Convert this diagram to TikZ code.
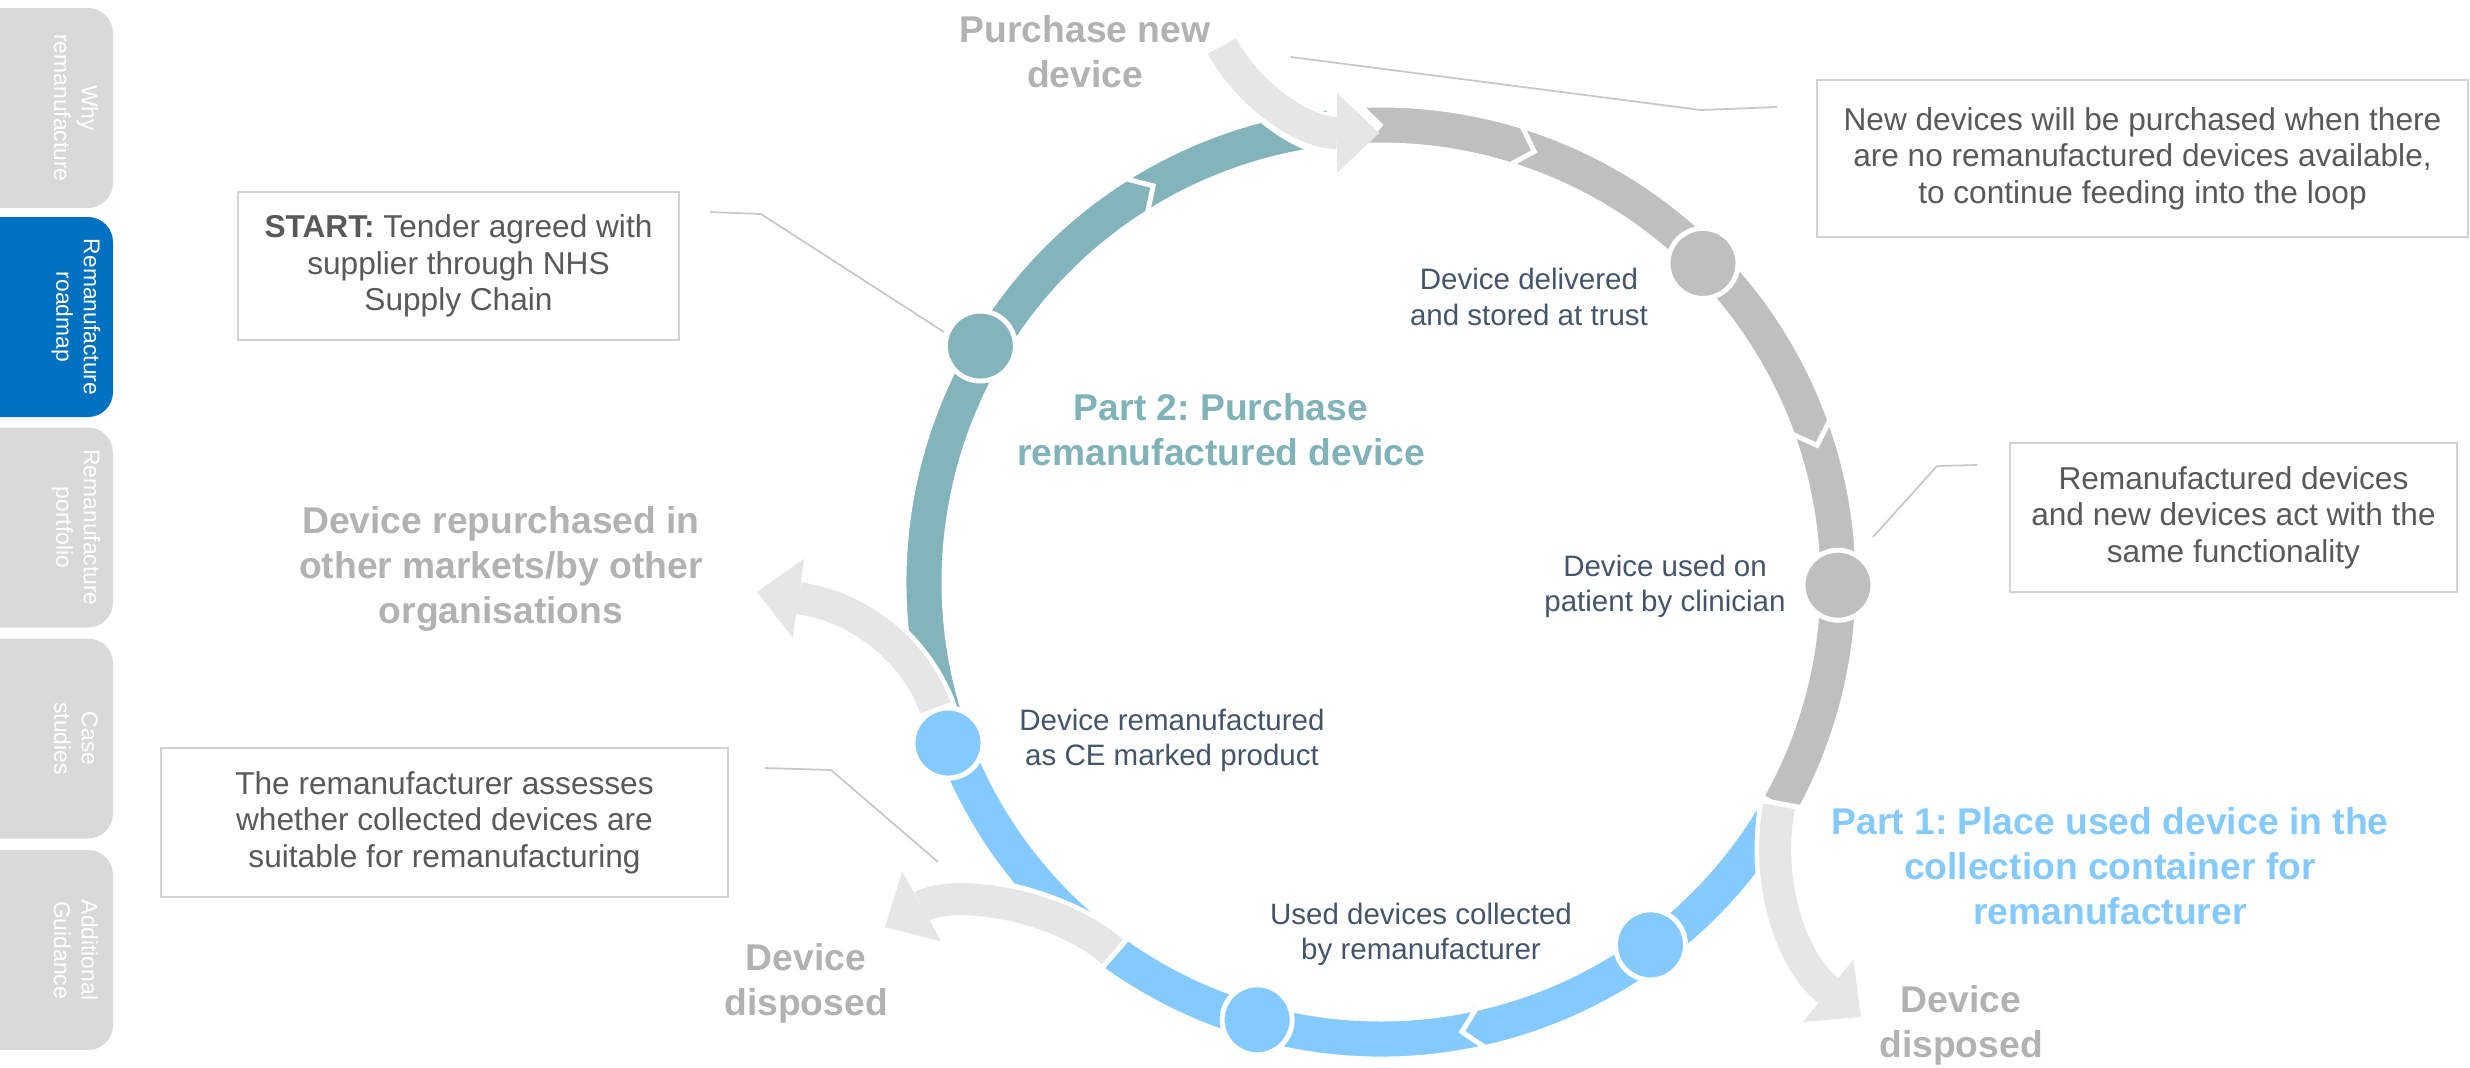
\documentclass[tikz,border=0pt]{standalone}
\usepackage{fontspec}
\setmainfont{Liberation Sans}
\usetikzlibrary{positioning,arrows.meta}
\frenchspacing

\definecolor{loopteal}{RGB}{132,180,187}
\definecolor{loopgrey}{RGB}{191,191,191}
\definecolor{loopblue}{RGB}{133,202,255}
\definecolor{pale}{RGB}{230,230,230}
\definecolor{tabgrey}{RGB}{217,217,217}
\definecolor{tabblue}{RGB}{0,112,192}
\definecolor{slate}{RGB}{68,84,106}
\definecolor{boxtext}{RGB}{89,89,89}
\definecolor{boxline}{RGB}{210,210,210}
\definecolor{calline}{RGB}{200,200,200}
\definecolor{lblgrey}{RGB}{178,178,178}
\definecolor{partteal}{RGB}{128,178,186}
\definecolor{partblue}{RGB}{133,202,255}

% #1 colour, #2 from, #3 to, #4 notch at start (0/1), #5 tip at end (0/1)
\newcommand{\loopseg}[5]{%
  \pgfmathsetmacro\segA{#2-#4*2.4}%
  \pgfmathsetmacro\segB{#3-#5*2.4}%
  \pgfmathsetmacro\segO{4.77+#5*0.13}%
  \pgfmathsetmacro\segI{4.37-#5*0.13}%
  \fill[#1,draw=white,line width=1.4pt]
    (#2:4.77) arc[start angle=#2,end angle=#3,radius=4.77]
    -- (#3:\segO) -- (\segB:4.57) -- (#3:\segI) -- (#3:4.37)
    arc[start angle=#3,end angle=#2,radius=4.37]
    -- (\segA:4.57) -- cycle;}

\begin{document}
\begin{tikzpicture}[
  box/.style={draw=boxline,line width=0.7pt,fill=white,align=center,text=boxtext,font=\fontsize{9}{10.4}\selectfont,inner sep=0},
  lbl/.style={align=center,text=slate,font=\fontsize{8.4}{10}\selectfont,inner sep=0},
  bigtxt/.style={align=center,text=#1,font=\fontsize{10.6}{12.8}\selectfont\bfseries,inner sep=0},
  dot/.style={circle,fill=#1,draw=white,line width=1.4pt,minimum size=0.7cm,inner sep=0},
  tab/.style={rotate=-90,align=center,text=white,font=\fontsize{6.5}{7.8}\selectfont,inner sep=0},
  callout/.style={draw=calline,line width=0.5pt},
  outarrow/.style={draw=pale,line width=0.32cm,-{Triangle[length=0.42cm,width=0.8cm,line width=0pt]},
    preaction={draw=white,line width=0.42cm,shorten <=-1.5pt,-{Triangle[length=0.52cm,width=0.98cm,line width=0pt]}}}]
\useasboundingbox (0,0) rectangle (24.70,-10.67);

\foreach \y/\c/\t [count=\i] in {1.08/tabgrey/{Why\\remanufacture},3.17/tabblue/{Remanufacture\\roadmap},5.275/tabgrey/{Remanufacture\\portfolio},7.385/tabgrey/{Case\\studies},9.50/tabgrey/{Additional\\Guidance}}{
  \fill[\c,rounded corners=0.25cm] (-0.5,-\y+1.0) rectangle (1.13,-\y-1.0);
  \node[tab] (tab\i) at (0.76,-\y) {\t};
}

\node[box,minimum width=4.41cm,minimum height=1.48cm] (startbox) at (4.585,-2.66) {\textbf{START:} Tender agreed with\\supplier through NHS\\Supply Chain};
\node[box,minimum width=6.51cm,minimum height=1.57cm] (newbox) at (21.425,-1.585) {New devices will be purchased when there\\are no remanufactured devices available,\\to continue feeding into the loop};
\node[box,minimum width=4.47cm,minimum height=1.49cm] (samebox) at (22.335,-5.175) {Remanufactured devices\\and new devices act with the\\same functionality};
\node[box,minimum width=5.67cm,minimum height=1.49cm] (checkbox) at (4.445,-8.225) {The remanufacturer assesses\\whether collected devices are\\suitable for remanufacturing};

\draw[callout] (7.10,-2.12) -- (7.61,-2.14) -- (9.44,-3.32);
\draw[callout] (12.91,-0.57) -- (17.01,-1.10) -- (17.77,-1.07);
\draw[callout] (18.73,-5.37) -- (19.37,-4.66) -- (19.77,-4.65);
\draw[callout] (7.65,-7.68) -- (8.31,-7.70) -- (9.38,-8.62);

\begin{scope}[shift={(13.81,-5.82)}]
\loopseg{loopteal}{200.4}{122.3}{0}{1}
\loopseg{loopteal}{122.3}{94}{1}{0}
\loopseg{loopgrey}{92.5}{72.8}{1}{1}
\loopseg{loopgrey}{72.8}{19.8}{1}{1}
\loopseg{loopgrey}{19.8}{-29.4}{1}{0}
\loopseg{loopblue}{-30}{-77.4}{0}{1}
\loopseg{loopblue}{-77.4}{-159.6}{1}{0}
\coordinate (binLout) at (234:4.57);
\coordinate (binRout) at (-29.4:4.57);
\node[dot=loopteal] (c1) at (149.5:4.65) {};
\node[dot=loopgrey] (c2) at (44.7:4.53) {};
\node[dot=loopgrey] (c3) at (-0.4:4.57) {};
\node[dot=loopblue] (c4) at (-53.4:4.52) {};
\node[dot=loopblue] (c5) at (-105.8:4.55) {};
\node[dot=loopblue] (c6) at (200.4:4.62) {};
\end{scope}

\coordinate (buyout) at (12.22,-0.46);
\coordinate (buytip) at (13.79,-1.33);
\coordinate (rebuytip) at (7.57,-5.92);
\coordinate (binLtip) at (8.85,-9.27);
\coordinate (binRtip) at (18.61,-10.17);

\draw[outarrow] (buyout) .. controls (12.45,-0.90) and (13.00,-1.33) .. (buytip);
\draw[outarrow] (c6) .. controls (9.15,-6.51) and (8.60,-6.07) .. (rebuytip);
\draw[outarrow] (binLout) .. controls (10.60,-9.05) and (9.55,-8.88) .. (binLtip);
\draw[outarrow] (binRout) .. controls (17.65,-8.80) and (17.90,-9.60) .. (binRtip);
\node[dot=loopblue] at (c6) {};

\node[lbl] (deliv) at (15.29,-2.97) {Device delivered\\and stored at trust};
\node[lbl] (usedon) at (16.65,-5.86) {Device used on\\patient by clinician};
\node[lbl] (reman) at (11.72,-7.40) {Device remanufactured\\as CE marked product};
\node[lbl] (collect) at (14.21,-9.34) {Used devices collected\\by remanufacturer};

\node[bigtxt=partteal] (part2) at (12.21,-4.30) {Part 2: Purchase\\remanufactured device};
\node[bigtxt=partblue] (part1) at (21.10,-8.66) {Part 1: Place used device in the\\collection container for\\remanufacturer};
\node[bigtxt=lblgrey] (buy) at (10.85,-0.52) {Purchase new\\device};
\node[bigtxt=lblgrey] (rebuy) at (5.01,-5.69) {Device repurchased in\\other markets/by other\\organisations};
\node[bigtxt=lblgrey] (binL) at (8.06,-9.83) {Device\\disposed};
\node[bigtxt=lblgrey] (binR) at (19.61,-10.25) {Device\\disposed};
\end{tikzpicture}
\end{document}
